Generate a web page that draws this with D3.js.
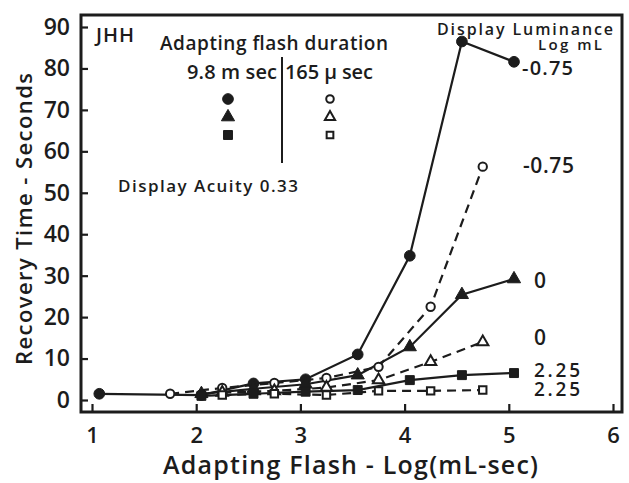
<!DOCTYPE html>
<html>
<head>
<meta charset="utf-8">
<script src="https://cdn.jsdelivr.net/npm/d3@7"></script>
<style>
  html, body { margin: 0; padding: 0; background: #fff; }
  svg { display: block; }
  text { font-family: "Open Sans", "DejaVu Sans", sans-serif; font-weight: 600; fill: #1c1c1c; }
</style>
</head>
<body>
<svg id="chart" width="629" height="483"></svg>
<script>
// Adapting flash intensities (log mL-sec) for the two flash durations
const xLong = [1.07, 2.05, 2.55, 3.05, 3.55, 4.05, 4.55, 5.05];   // 9.8 msec flashes
const xLongShort = [2.05, 2.55, 3.05, 3.55, 4.05, 4.55, 5.05];
const xShort = [1.75, 2.25, 2.75, 3.25, 3.75, 4.25, 4.75];        // 165 usec flashes
const xShortTail = [2.25, 2.75, 3.25, 3.75, 4.25, 4.75];

// Recovery time (seconds) per display luminance
const longLumNeg075 = [1.5, 1.2, 4.0, 5.0, 11.0, 34.8, 86.5, 81.6];
const shortLumNeg075 = [1.5, 2.9, 4.1, 5.3, 8.0, 22.5, 56.3];
const longLum0 = [1.5, 2.7, 3.8, 6.0, 12.8, 25.4, 29.2];
const shortLum0 = [1.8, 2.2, 3.0, 4.8, 9.2, 14.0];
const longLum225 = [1.0, 1.5, 2.0, 2.4, 4.8, 6.0, 6.5];
const shortLum225 = [1.2, 1.5, 1.2, 2.2, 2.2, 2.4];

const xTicks = [1, 2, 3, 4, 5, 6];
const yTicks = [0, 10, 20, 30, 40, 50, 60, 70, 80, 90];

const ink = "#1c1c1c";
const svg = d3.select("#chart");

const x = d3.scaleLinear().domain([1, 6]).range([92, 613]);
const y = d3.scaleLinear().domain([0, 90]).range([400, 27]);

// plot frame
const frame = { left: 81, right: 622, top: 15, bottom: 412 };
svg.append("rect")
  .attr("x", frame.left).attr("y", frame.top)
  .attr("width", frame.right - frame.left).attr("height", frame.bottom - frame.top)
  .attr("fill", "none").attr("stroke", ink).attr("stroke-width", 3);

// y axis: inward ticks, labels outside
const yAxis = d3.axisLeft(y).tickValues(yTicks).tickSize(-7).tickPadding(11).tickFormat(d3.format("d"));
const gy = svg.append("g").attr("transform", `translate(${frame.left},0)`).call(yAxis);
gy.select(".domain").remove();
gy.selectAll(".tick line").attr("stroke", ink).attr("stroke-width", 2.2);
gy.selectAll(".tick text").style("font-size", "23px").attr("font-family", null).attr("fill", ink);

// x axis: inward ticks, labels below
const xAxis = d3.axisBottom(x).tickValues(xTicks).tickSize(-8).tickPadding(15).tickFormat(d3.format("d"));
const gx = svg.append("g").attr("transform", `translate(0,${frame.bottom})`).call(xAxis);
gx.select(".domain").remove();
gx.selectAll(".tick line").attr("stroke", ink).attr("stroke-width", 2.2);
gx.selectAll(".tick text").style("font-size", "22px").attr("font-family", null).attr("fill", ink);

// axis titles
svg.append("text")
  .attr("x", 163).attr("y", 474)
  .attr("textLength", 375).attr("lengthAdjust", "spacing")
  .style("font-size", "25px").text("Adapting Flash - Log(mL-sec)");
svg.append("text")
  .attr("transform", "translate(32,365) rotate(-90)")
  .attr("textLength", 292).attr("lengthAdjust", "spacing")
  .style("font-size", "22px").text("Recovery Time - Seconds");

const line = d3.line().x(d => x(d[0])).y(d => y(d[1]));
const zip = (xs, ys) => xs.map((v, i) => [v, ys[i]]);

const series = [
  { xs: xLong, ys: longLumNeg075, dashed: false, sym: d3.symbolCircle, fill: true, size: 90 },
  { xs: xShort, ys: shortLumNeg075, dashed: true, sym: d3.symbolCircle, fill: false, size: 55 },
  { xs: xLongShort, ys: longLum0, dashed: false, sym: d3.symbolTriangle, fill: true, size: 75 },
  { xs: xShortTail, ys: shortLum0, dashed: true, sym: d3.symbolTriangle, fill: false, size: 55 },
  { xs: xLongShort, ys: longLum225, dashed: false, sym: d3.symbolSquare, fill: true, size: 80 },
  { xs: xShortTail, ys: shortLum225, dashed: true, sym: d3.symbolSquare, fill: false, size: 55 }
];

series.forEach(s => {
  const pts = zip(s.xs, s.ys);
  svg.append("path").datum(pts)
    .attr("d", line).attr("fill", "none").attr("stroke", ink)
    .attr("stroke-width", 2.2)
    .attr("stroke-dasharray", s.dashed ? "9,6" : null);
});
series.forEach(s => {
  const pts = zip(s.xs, s.ys);
  svg.selectAll(null).data(pts).enter().append("path")
    .attr("transform", d => `translate(${x(d[0])},${y(d[1])})`)
    .attr("d", d3.symbol().type(s.sym).size(s.size))
    .attr("fill", s.fill ? ink : "#fff")
    .attr("stroke", ink).attr("stroke-width", s.fill ? 1 : 2);
});

// luminance labels at the end of each curve
const lumLabels = [
  { t: "-0.75", x: 522, y: 75, size: 20, w: 51 },
  { t: "-0.75", x: 523, y: 173, size: 21, w: 51 },
  { t: "0", x: 534, y: 288, size: 21, w: 14 },
  { t: "0", x: 534, y: 345, size: 21, w: 14 },
  { t: "2.25", x: 534, y: 377, size: 19, w: 46 },
  { t: "2.25", x: 534, y: 396, size: 19, w: 46 }
];
svg.selectAll(null).data(lumLabels).enter().append("text")
  .attr("x", d => d.x).attr("y", d => d.y)
  .attr("textLength", d => d.w).attr("lengthAdjust", "spacing")
  .style("font-size", d => d.size + "px").text(d => d.t);

// header texts
const header = [
  { t: "JHH", x: 96, y: 42, size: 20, w: 38 },
  { t: "Adapting flash duration", x: 160, y: 50, size: 19, w: 228 },
  { t: "9.8 m sec", x: 187, y: 79, size: 20, w: 90 },
  { t: "165 \u03bc sec", x: 285, y: 79, size: 20, w: 88 },
  { t: "Display Acuity 0.33", x: 118, y: 192, size: 17, w: 180 },
  { t: "Display Luminance", x: 437, y: 35, size: 16, w: 176 },
  { t: "Log mL", x: 538, y: 50, size: 15, w: 64 }
];
svg.selectAll(null).data(header).enter().append("text")
  .attr("x", d => d.x).attr("y", d => d.y)
  .attr("textLength", d => d.w).attr("lengthAdjust", "spacing")
  .style("font-size", d => d.size + "px").text(d => d.t);
svg.append("line").attr("x1", 282).attr("x2", 282).attr("y1", 57).attr("y2", 163)
  .attr("stroke", ink).attr("stroke-width", 2);

// legend symbols
const legendSyms = [
  { sym: d3.symbolCircle, fill: true, size: 90, cx: 228, cy: 99 },
  { sym: d3.symbolTriangle, fill: true, size: 75, cx: 228, cy: 117 },
  { sym: d3.symbolSquare, fill: true, size: 80, cx: 228, cy: 135 },
  { sym: d3.symbolCircle, fill: false, size: 45, cx: 330, cy: 99 },
  { sym: d3.symbolTriangle, fill: false, size: 45, cx: 330, cy: 117 },
  { sym: d3.symbolSquare, fill: false, size: 45, cx: 330, cy: 135 }
];
svg.selectAll(null).data(legendSyms).enter().append("path")
  .attr("transform", d => `translate(${d.cx},${d.cy})`)
  .attr("d", d => d3.symbol().type(d.sym).size(d.size)())
  .attr("fill", d => d.fill ? ink : "#fff")
  .attr("stroke", ink).attr("stroke-width", d => d.fill ? 1 : 2);
</script>
</body>
</html>
